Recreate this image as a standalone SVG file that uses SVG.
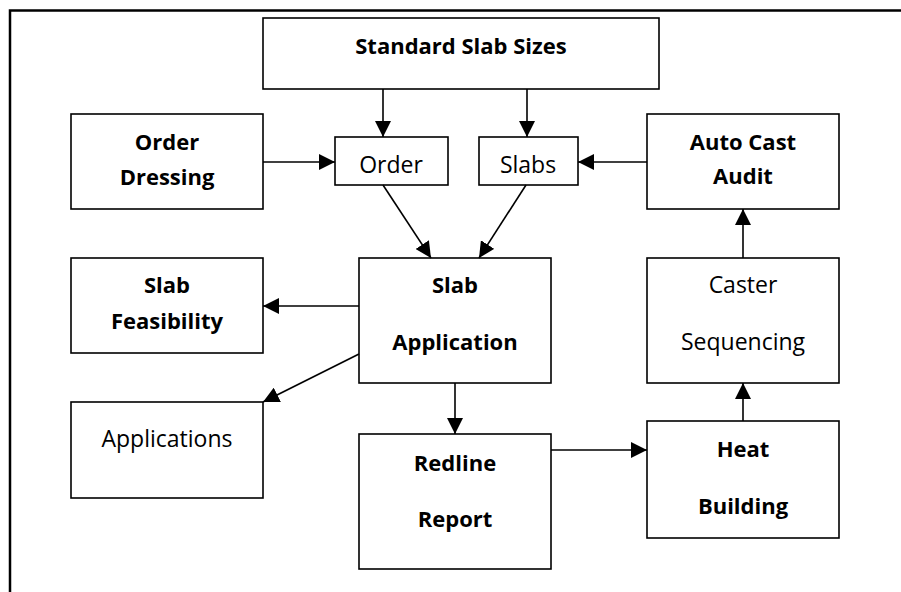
<svg xmlns="http://www.w3.org/2000/svg" width="901" height="592" viewBox="0 0 901 592">
<style>
.box{fill:#fff;stroke:#000;stroke-width:1.6}
.t{font-family:"Open Sans","Noto Sans","Liberation Sans",sans-serif;font-size:23px;fill:#000;text-anchor:middle}
.b{font-weight:bold;font-size:22px}
.c{stroke:#000;stroke-width:1.6;fill:none;marker-end:url(#ah)}
</style>
<defs>
<marker id="ah" markerUnits="userSpaceOnUse" markerWidth="16" markerHeight="16" viewBox="0 0 14 14" refX="14" refY="7" orient="auto">
<path d="M0,0 L14,7 L0,14 Z" fill="#000"/>
</marker>
</defs>
<rect width="901" height="592" fill="#fff"/>
<path d="M10,592 V10.5 H901" fill="none" stroke="#000" stroke-width="2.5"/>
<g id="standard"><rect class="box" x="263" y="18" width="396" height="71"/><text class="t b" x="461" y="54">Standard Slab Sizes</text></g>
<g id="orderdressing"><rect class="box" x="71" y="114" width="192" height="95"/><text class="t b" x="167" y="150">Order</text><text class="t b" x="167" y="185">Dressing</text></g>
<g id="order"><rect class="box" x="335" y="137" width="113" height="48"/><text class="t" x="391" y="173">Order</text></g>
<g id="slabs"><rect class="box" x="479" y="137" width="99" height="48"/><text class="t" x="528" y="173">Slabs</text></g>
<g id="autocast"><rect class="box" x="647" y="114" width="192" height="95"/><text class="t b" x="743" y="150">Auto Cast</text><text class="t b" x="743" y="184">Audit</text></g>
<g id="slabfeas"><rect class="box" x="71" y="258" width="192" height="95"/><text class="t b" x="167" y="293">Slab</text><text class="t b" x="167" y="329">Feasibility</text></g>
<g id="slabapp"><rect class="box" x="359" y="258" width="192" height="125"/><text class="t b" x="455" y="293">Slab</text><text class="t b" x="455" y="350">Application</text></g>
<g id="caster"><rect class="box" x="647" y="258" width="192" height="125"/><text class="t" x="743" y="293">Caster</text><text class="t" x="743" y="350">Sequencing</text></g>
<g id="applications"><rect class="box" x="71" y="402" width="192" height="96"/><text class="t" x="167" y="447">Applications</text></g>
<g id="redline"><rect class="box" x="359" y="434" width="192" height="135"/><text class="t b" x="455" y="471">Redline</text><text class="t b" x="455" y="527">Report</text></g>
<g id="heat"><rect class="box" x="647" y="421" width="192" height="117"/><text class="t b" x="743" y="457">Heat</text><text class="t b" x="743" y="514">Building</text></g>
<g id="connectors">
<path class="c" d="M383,89 V137"/>
<path class="c" d="M527,89 V137"/>
<path class="c" d="M263,162 H335"/>
<path class="c" d="M647,162 H578"/>
<path class="c" d="M383,185 L431,258"/>
<path class="c" d="M526,185 L479,258"/>
<path class="c" d="M359,306 H263"/>
<path class="c" d="M359,354 L263,402"/>
<path class="c" d="M455,383 V434"/>
<path class="c" d="M551,450 H647"/>
<path class="c" d="M743,421 V383"/>
<path class="c" d="M743,258 V209"/>
</g>
</svg>
